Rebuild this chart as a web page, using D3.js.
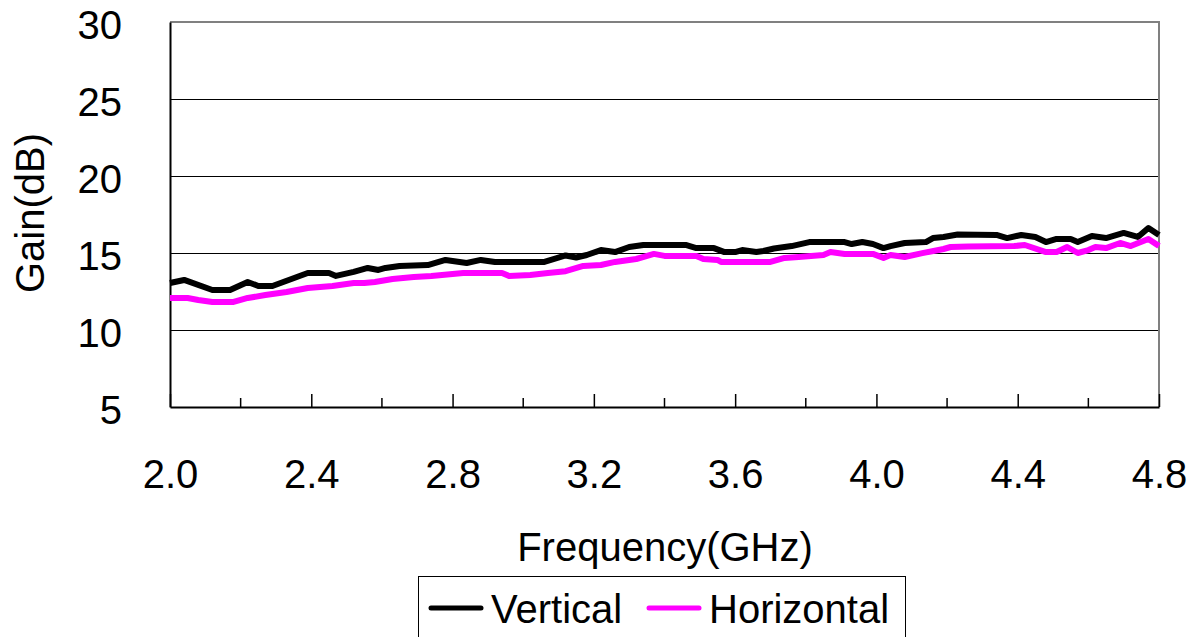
<!DOCTYPE html>
<html>
<head>
<meta charset="utf-8">
<script src="https://cdn.jsdelivr.net/npm/d3@7"></script>
<style>
  html, body { margin: 0; padding: 0; background: #fff; }
  svg { display: block; font-family: "Liberation Sans", Arial, sans-serif; }
</style>
</head>
<body>
<svg id="chart" width="1189" height="637"></svg>
<script>
// ---- Data ----
const verticalFreq = [2.00, 2.04, 2.12, 2.17, 2.22, 2.25, 2.29, 2.39, 2.45, 2.47, 2.52, 2.56, 2.59, 2.61, 2.65, 2.73, 2.78, 2.84, 2.88, 2.92, 3.06, 3.12, 3.15, 3.18, 3.22, 3.26, 3.30, 3.34, 3.46, 3.49, 3.54, 3.57, 3.60, 3.62, 3.66, 3.68, 3.71, 3.76, 3.81, 3.91, 3.93, 3.96, 3.99, 4.02, 4.04, 4.08, 4.14, 4.16, 4.19, 4.23, 4.34, 4.37, 4.41, 4.45, 4.48, 4.51, 4.55, 4.57, 4.61, 4.65, 4.70, 4.74, 4.77, 4.80];
const verticalGain = [13.05, 13.25, 12.60, 12.60, 13.12, 12.86, 12.86, 13.70, 13.70, 13.51, 13.77, 14.03, 13.90, 14.03, 14.16, 14.22, 14.55, 14.35, 14.55, 14.42, 14.42, 14.84, 14.71, 14.87, 15.19, 15.06, 15.39, 15.52, 15.52, 15.32, 15.32, 15.06, 15.06, 15.19, 15.06, 15.13, 15.29, 15.45, 15.71, 15.71, 15.58, 15.71, 15.58, 15.32, 15.45, 15.65, 15.71, 15.97, 16.04, 16.20, 16.17, 15.97, 16.17, 16.04, 15.71, 15.91, 15.91, 15.71, 16.10, 15.97, 16.30, 16.04, 16.62, 16.17];

const horizontalFreq = [2.00, 2.05, 2.08, 2.12, 2.18, 2.22, 2.27, 2.33, 2.39, 2.46, 2.52, 2.55, 2.58, 2.63, 2.69, 2.74, 2.83, 2.94, 2.96, 3.02, 3.07, 3.12, 3.17, 3.22, 3.26, 3.32, 3.37, 3.40, 3.49, 3.51, 3.55, 3.56, 3.70, 3.74, 3.78, 3.85, 3.87, 3.91, 3.99, 4.02, 4.04, 4.08, 4.13, 4.19, 4.21, 4.26, 4.39, 4.42, 4.48, 4.51, 4.54, 4.57, 4.60, 4.62, 4.65, 4.69, 4.72, 4.77, 4.80];
const horizontalGain = [12.08, 12.08, 11.95, 11.82, 11.82, 12.08, 12.27, 12.47, 12.73, 12.86, 13.05, 13.05, 13.12, 13.31, 13.44, 13.51, 13.70, 13.70, 13.51, 13.57, 13.70, 13.82, 14.16, 14.22, 14.42, 14.61, 14.94, 14.81, 14.81, 14.61, 14.55, 14.42, 14.42, 14.68, 14.74, 14.87, 15.06, 14.94, 14.94, 14.68, 14.87, 14.74, 14.99, 15.26, 15.39, 15.42, 15.45, 15.52, 15.06, 15.06, 15.39, 15.00, 15.19, 15.39, 15.32, 15.65, 15.45, 15.91, 15.45];

const seriesNames = ["Vertical", "Horizontal"];
const seriesColors = ["#000000", "#FF00FF"];
const xTickLabels = [2.0, 2.4, 2.8, 3.2, 3.6, 4.0, 4.4, 4.8];
const xMinorTicks = [2.2, 2.6, 3.0, 3.4, 3.8, 4.2, 4.6];
const yTickLabels = [5, 10, 15, 20, 25, 30];
const xTitle = "Frequency(GHz)";
const yTitle = "Gain(dB)";

// ---- Layout ----
const svg = d3.select("#chart");
const plot = { left: 170, right: 1159, top: 22, bottom: 407 };

const x = d3.scaleLinear().domain([2.0, 4.8]).range([plot.left, plot.right]);
const y = d3.scaleLinear().domain([5, 30]).range([plot.bottom, plot.top]);

// Gridlines
svg.append("g")
  .selectAll("line")
  .data(yTickLabels.filter(v => v > 5 && v < 30))
  .join("line")
  .attr("x1", plot.left).attr("x2", plot.right)
  .attr("y1", d => Math.round(y(d)) + 0.5).attr("y2", d => Math.round(y(d)) + 0.5)
  .attr("stroke", "#000").attr("stroke-width", 1)
  .attr("shape-rendering", "crispEdges");

// Top & right border (gray)
svg.append("path")
  .attr("d", `M${plot.left},${y(30)}H${plot.right}V${plot.bottom}`)
  .attr("fill", "none").attr("stroke", "#808080").attr("stroke-width", 2);

// Y axis
const yAxis = d3.axisLeft(y).tickValues(yTickLabels).tickSize(0).tickPadding(0).tickFormat(d3.format("d"));
const gy = svg.append("g").attr("transform", `translate(${plot.left},0)`).call(yAxis);
gy.select(".domain").attr("stroke", "#000").attr("stroke-width", 2);
gy.selectAll(".tick text")
  .attr("x", 122 - plot.left)
  .attr("dy", "0.4em")
  .attr("font-size", 40)
  .attr("font-family", "Liberation Sans, Arial, sans-serif")
  .attr("fill", "#000");

// X axis (ticks pointing inward)
const xAxis = d3.axisBottom(x).tickValues(xTickLabels).tickSizeInner(-13).tickSizeOuter(0).tickPadding(0).tickFormat(d3.format(".1f"));
const gx = svg.append("g").attr("transform", `translate(0,${plot.bottom})`).call(xAxis);
gx.select(".domain").attr("stroke", "#000").attr("stroke-width", 2);
gx.selectAll(".tick line").attr("stroke", "#000").attr("stroke-width", 1.5);
gx.selectAll(".tick text")
  .attr("y", 81)
  .attr("dy", 0)
  .attr("font-size", 40)
  .attr("font-family", "Liberation Sans, Arial, sans-serif")
  .attr("fill", "#000");

// Minor x ticks
svg.append("g")
  .selectAll("line")
  .data(xMinorTicks)
  .join("line")
  .attr("x1", d => x(d)).attr("x2", d => x(d))
  .attr("y1", plot.bottom).attr("y2", plot.bottom - 9)
  .attr("stroke", "#000").attr("stroke-width", 1.5);

// Lines
const line = d3.line().x(d => x(d[0])).y(d => y(d[1]));
const seriesData = [
  d3.zip(verticalFreq, verticalGain),
  d3.zip(horizontalFreq, horizontalGain)
];
svg.append("g")
  .selectAll("path")
  .data(seriesData)
  .join("path")
  .attr("d", line)
  .attr("fill", "none")
  .attr("stroke", (d, i) => seriesColors[i])
  .attr("stroke-width", 6)
  .attr("stroke-linejoin", "round")
  .attr("stroke-linecap", "butt");

// Axis titles
svg.append("text")
  .attr("x", 665).attr("y", 561)
  .attr("text-anchor", "middle")
  .attr("font-size", 40)
  .attr("fill", "#000")
  .text(xTitle);

svg.append("text")
  .attr("transform", `translate(44,${213}) rotate(-90)`)
  .attr("text-anchor", "middle")
  .attr("font-size", 40)
  .attr("fill", "#000")
  .text(yTitle);

// Legend
const legend = svg.append("g");
legend.append("rect")
  .attr("x", 418.5).attr("y", 576.5)
  .attr("width", 487).attr("height", 80)
  .attr("fill", "#fff").attr("stroke", "#000").attr("stroke-width", 1);

const legendItems = [
  { name: seriesNames[0], color: seriesColors[0], x0: 431, x1: 481, tx: 491 },
  { name: seriesNames[1], color: seriesColors[1], x0: 649, x1: 699, tx: 709 }
];
legendItems.forEach(it => {
  legend.append("line")
    .attr("x1", it.x0).attr("x2", it.x1)
    .attr("y1", 608).attr("y2", 608)
    .attr("stroke", it.color).attr("stroke-width", 5)
    .attr("stroke-linecap", "round");
  legend.append("text")
    .attr("x", it.tx).attr("y", 623)
    .attr("font-size", 40)
    .attr("fill", "#000")
    .text(it.name);
});
</script>
</body>
</html>
